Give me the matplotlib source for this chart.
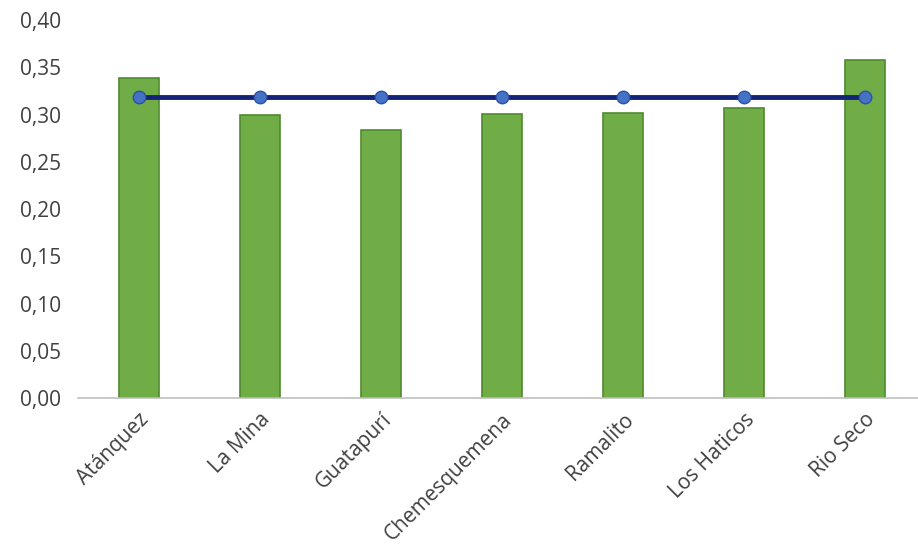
import matplotlib
matplotlib.use("Agg")
import matplotlib.pyplot as plt
import matplotlib.transforms as mtransforms
import numpy as np

categories = ["Atánquez", "La Mina", "Guatapurí", "Chemesquemena", "Ramalito", "Los Haticos", "Rio Seco"]
bar_values = [0.339, 0.299, 0.284, 0.301, 0.302, 0.307, 0.358]
line_values = [0.319, 0.319, 0.319, 0.319, 0.319, 0.319, 0.319]
yticks = [0.00, 0.05, 0.10, 0.15, 0.20, 0.25, 0.30, 0.35, 0.40]

plt.rcParams['font.family'] = ['Open Sans', 'DejaVu Sans']

fig = plt.figure(figsize=(9.18, 5.48), dpi=100)
ax = fig.add_axes([0.085, 0.2737, 0.923, 0.6898])

x = np.arange(len(categories))
ax.bar(x, bar_values, width=0.33, color="#70AD47", edgecolor="#4F8A2E", linewidth=1.2, zorder=2)
ax.plot(x, line_values, color="#14237A", linewidth=3.5, marker="o", markersize=9,
        markerfacecolor="#4472C4", markeredgecolor="#2F4FA8", zorder=3)

ax.set_xlim(-0.5, len(categories) - 0.5)
ax.set_ylim(0, 0.40)
ax.set_yticks(yticks)
ax.set_yticklabels([f"{v:.2f}".replace(".", ",") for v in yticks], fontsize=15, color="#404040")
ax.set_xticks(x)
ax.set_xticklabels(categories, rotation=45, ha="right", rotation_mode="anchor", fontsize=15, color="#404040")
offset = mtransforms.ScaledTranslation(14 / 100, 0, fig.dpi_scale_trans)
for lbl in ax.get_xticklabels():
    lbl.set_transform(lbl.get_transform() + offset)
ax.tick_params(axis="y", length=0, pad=12)
ax.tick_params(axis="x", length=0, pad=8)

for s in ["top", "right", "left"]:
    ax.spines[s].set_visible(False)
ax.spines["bottom"].set_color("#BFBFBF")
ax.spines["bottom"].set_linewidth(1.2)

fig.savefig("out.png", dpi=100)
